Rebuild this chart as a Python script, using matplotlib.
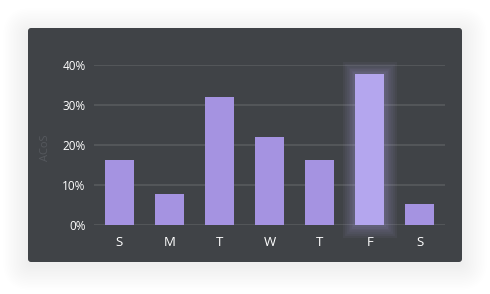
import matplotlib
matplotlib.use("Agg")
import matplotlib.pyplot as plt
from matplotlib.patches import FancyBboxPatch

days = ["S", "M", "T", "W", "T", "F", "S"]
acos = [16.2, 7.7, 32.1, 22.1, 16.3, 37.8, 5.2]
highlight = 5
yticks = [0, 10, 20, 30, 40]
ytick_labels = ["0%", "10%", "20%", "30%", "40%"]
ylabel = "ACoS"

W, H = 490, 294
fig = plt.figure(figsize=(W / 100, H / 100), dpi=100)
fig.patch.set_facecolor("white")

# background / card axes in pixel coords
bg = fig.add_axes([0, 0, 1, 1])
bg.set_xlim(0, W)
bg.set_ylim(H, 0)
bg.axis("off")
# soft shadow
for i in range(16):
    g = 1 + i * 1.6
    bg.add_patch(FancyBboxPatch((28 - g, 30 - g + 3), 434 + 2 * g, 232 + 2 * g,
                                boxstyle="round,pad=0,rounding_size=%f" % (3 + g),
                                fc="black", ec="none", alpha=0.005, zorder=0))
bg.add_patch(FancyBboxPatch((28, 28), 434, 234, boxstyle="round,pad=0,rounding_size=3",
                            fc="#404347", ec="none", zorder=1))
bg.text(45, 148, ylabel, rotation=90, ha="center", va="center", color="#55585d",
        fontsize=8, family="Open Sans")

ax = fig.add_axes([94 / W, 1 - 225 / H, 351 / W, 160 / H])
ax.patch.set_alpha(0)
x = list(range(len(days)))
colors = ["#b4a6ee" if i == highlight else "#a593e1" for i in x]

# glow behind highlighted bar
for lw in [18, 15, 12, 9, 7, 5, 3]:
    ax.bar(x[highlight], acos[highlight], width=0.58, color="none",
           edgecolor="#b9aef0", linewidth=lw, alpha=0.05, zorder=2, clip_on=False)
ax.bar(x, acos, width=0.58, color=colors, zorder=3)

ax.set_xlim(-0.5, 6.5)
ax.set_ylim(0, 40)
ax.set_yticks(yticks)
ax.set_yticklabels(ytick_labels)
ax.set_xticks(x)
ax.set_xticklabels(days)
ax.grid(axis="y", color="#56595c", linewidth=1.3, zorder=1)
ax.set_axisbelow(True)
for s in ax.spines.values():
    s.set_visible(False)
ax.tick_params(axis="both", length=0, colors="white")
ax.tick_params(axis="y", pad=6, labelsize=8.5)
ax.tick_params(axis="x", pad=8, labelsize=9.5)
for lab in ax.get_xticklabels() + ax.get_yticklabels():
    lab.set_family("Open Sans")

fig.savefig("out.png", dpi=100, facecolor="white")
